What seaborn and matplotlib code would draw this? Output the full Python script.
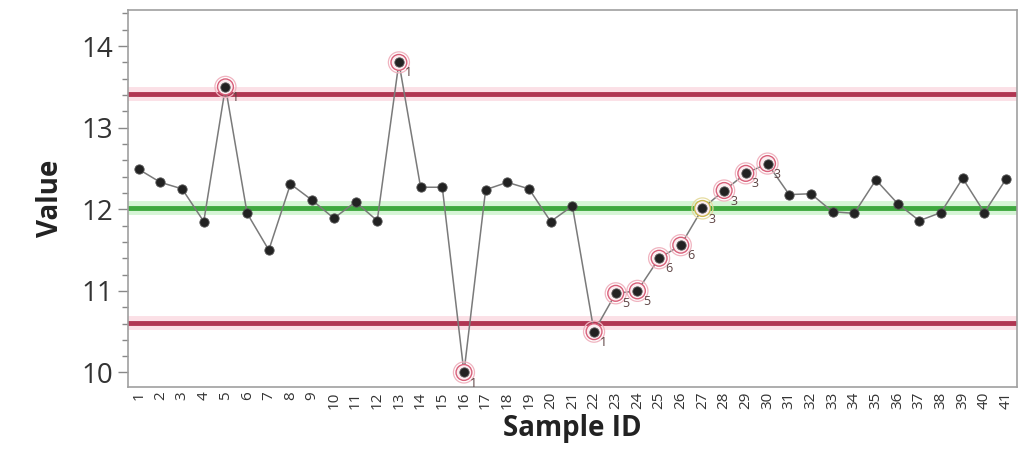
import numpy as np
import pandas as pd
import seaborn as sns
import matplotlib.pyplot as plt
from matplotlib.ticker import MultipleLocator

# data
sample_id = list(range(1, 42))
values = [12.49, 12.33, 12.25, 11.85, 13.50, 11.95, 11.50, 12.31, 12.11, 11.89,
          12.09, 11.86, 13.80, 12.27, 12.27, 10.00, 12.24, 12.33, 12.25, 11.85,
          12.04, 10.50, 10.97, 11.00, 11.40, 11.56, 12.01, 12.23, 12.44, 12.56,
          12.18, 12.19, 11.97, 11.95, 12.36, 12.07, 11.86, 11.96, 12.38, 11.96,
          12.37]
ucl = 13.41
center = 12.01
lcl = 10.61

# flagged points (sample id -> test number)
flag_ids = [5, 13, 16, 22, 23, 24, 25, 26, 27, 28, 29, 30]
flag_tests = ["1", "1", "1", "1", "5", "5", "6", "6", "3", "3", "3", "3"]

df = pd.DataFrame({"Sample ID": sample_id, "Value": values})

sns.set_style("white")
plt.rcParams['font.family'] = ['Open Sans', 'DejaVu Sans']

fig = plt.figure(figsize=(10.23, 4.62), dpi=100)
ax = fig.add_axes([0.125, 0.162, 0.869, 0.816])

# limit lines with a soft glow
for yv, col, glow in [(ucl, "#b03652", "#fbe0e6"), (lcl, "#b03652", "#fbe0e6"),
                      (center, "#3fa83f", "#d6f5d6")]:
    ax.axhline(yv, color=glow, lw=10, zorder=1)
    ax.axhline(yv, color=col, lw=3.5, zorder=2)

sns.lineplot(data=df, x="Sample ID", y="Value", color="#7a7a7a", lw=1.1,
             ax=ax, zorder=3)

# highlight rings for flagged points
flag_df = df[df["Sample ID"].isin(flag_ids)]
ring_cols = ["#f0b4c0" if s != 27 else "#e6dca0" for s in flag_df["Sample ID"]]
edge_cols = ["#d8607a" if s != 27 else "#cdb850" for s in flag_df["Sample ID"]]
ax.scatter(flag_df["Sample ID"], flag_df["Value"], s=230, facecolor="none",
           edgecolor=ring_cols, lw=0.9, zorder=4)
ax.scatter(flag_df["Sample ID"], flag_df["Value"], s=130, facecolor="#fceef1",
           edgecolor=edge_cols, lw=1.0, zorder=4)

sns.scatterplot(data=df, x="Sample ID", y="Value", color="#222222", s=45,
                edgecolor="#555555", linewidth=0.6, ax=ax, zorder=5)

for sid, t in zip(flag_ids, flag_tests):
    v = values[sid - 1]
    ax.text(sid + 0.28, v - 0.05, t, fontsize=9, color="#5e4444",
            ha="left", va="top", zorder=6)

ax.set_xlim(0.5, 41.5)
ax.set_ylim(9.82, 14.44)
ax.set_xticks(sample_id)
ax.set_xticklabels([str(s) for s in sample_id], rotation=90, fontsize=11,
                   color="#333333")
ax.set_yticks([10, 11, 12, 13, 14])
ax.yaxis.set_minor_locator(MultipleLocator(0.2))
ax.tick_params(axis="y", which="major", labelsize=20, length=7, width=1,
               color="#888888", labelcolor="#333333", left=True)
ax.tick_params(axis="y", which="minor", length=4, width=1, color="#888888",
               left=True)
ax.tick_params(axis="x", length=0, pad=3)

for sp in ax.spines.values():
    sp.set_color("#a0a0a0")
    sp.set_linewidth(1.2)

ax.set_xlabel("Sample ID", fontsize=20, fontweight="bold", color="#222222",
              labelpad=4)
ax.set_ylabel("Value", fontsize=20, fontweight="bold", color="#222222",
              labelpad=12)

fig.savefig("out.png", dpi=100)
